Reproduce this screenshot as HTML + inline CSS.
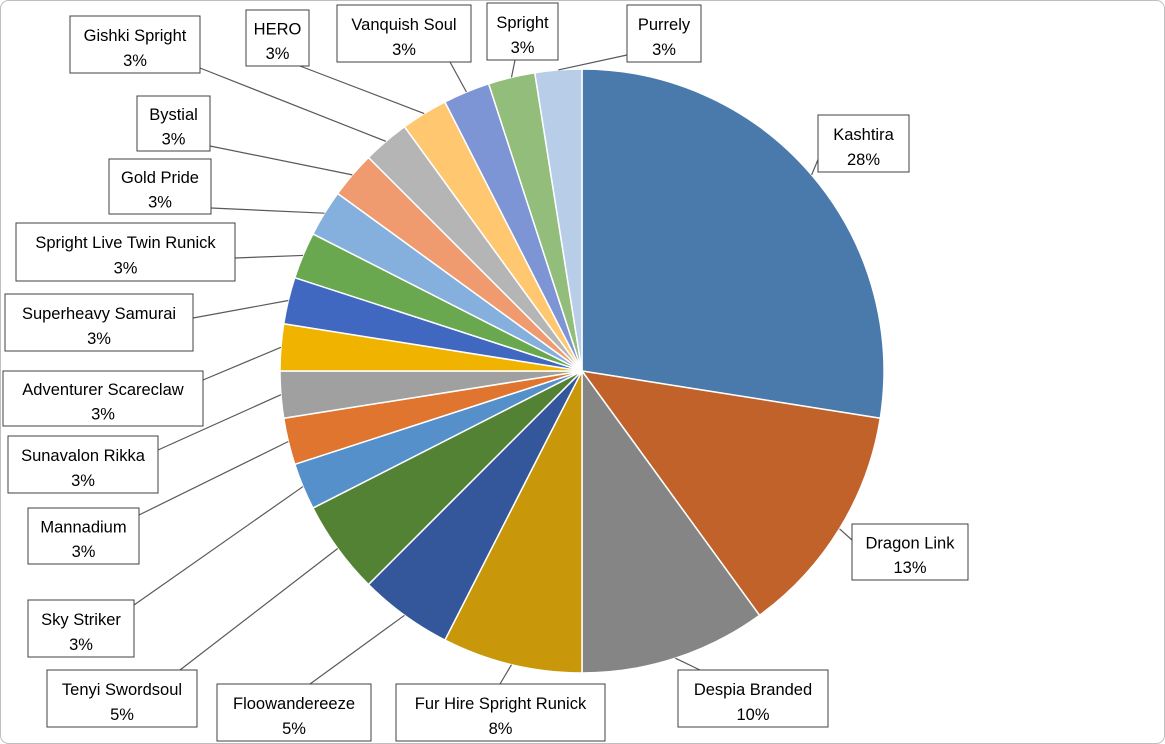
<!DOCTYPE html>
<html><head><meta charset="utf-8"><style>
html,body{margin:0;padding:0;background:#fff;}
svg{display:block;font-family:"Liberation Sans",sans-serif;}
</style></head><body>
<svg id="chart" width="1165" height="744" viewBox="0 0 1165 744">
<rect x="0.5" y="0.5" width="1164" height="743" rx="8" fill="#fff" stroke="#bfbfbf"/>
<g id="slices"></g><g id="leaders"></g><g id="labels"></g>
</svg>
<script>
const categories=["Kashtira","Dragon Link","Despia Branded","Fur Hire Spright Runick","Floowandereeze","Tenyi Swordsoul","Sky Striker","Mannadium","Sunavalon Rikka","Adventurer Scareclaw","Superheavy Samurai","Spright Live Twin Runick","Gold Pride","Bystial","Gishki Spright","HERO","Vanquish Soul","Spright","Purrely"];
const counts=[11,5,4,3,2,2,1,1,1,1,1,1,1,1,1,1,1,1,1];
const colors=["#4a7aab","#c0622a","#858585","#c8980a","#33579a","#548235","#5690cb","#e07530","#a0a0a0","#f0b400","#4068c0","#6aa84f","#85b0de","#f09a70","#b5b5b5","#ffc870","#7e95d5","#92bd7a","#b8cde8"];
// label box layout [x,y,w,h,anchorX,anchorY]
const boxes=[[818,115,91,57,822,150],[852,524,116,56,852,540],[678,670,150,57,700,670],[396,684,209,57,500,684],[217,684,154,57,310,684],[47,670,150,57,180,670],[28,600,106,57,134,605],[28,508,111,56,139,515],[8,436,150,57,158,450],[3,371,200,55,203,380],[5,294,188,57,193,318],[16,223,219,58,235,258],[109,159,102,55,211,208],[137,96,73,55,210,146],[70,16,130,57,200,68],[246,10,63,56,300,66],[337,5,134,57,450,62],[487,3,71,57,515,60],[627,5,74,57,627,55]];
const cx=582,cy=371,R=302;
const NS="http://www.w3.org/2000/svg";
const total=counts.reduce((a,b)=>a+b,0);
function pt(frac,r){const a=frac*2*Math.PI;return [cx+r*Math.sin(a),cy-r*Math.cos(a)];}
const gS=document.getElementById('slices'),gL=document.getElementById('leaders'),gT=document.getElementById('labels');
let acc=0;
counts.forEach((v,i)=>{
 const f0=acc/total,f1=(acc+v)/total;acc+=v;
 const p0=pt(f0,R),p1=pt(f1,R);const large=(f1-f0)>0.5?1:0;
 const p=document.createElementNS(NS,'path');
 p.setAttribute('d',`M${cx},${cy}L${p0[0]},${p0[1]}A${R},${R} 0 ${large} 1 ${p1[0]},${p1[1]}Z`);
 p.setAttribute('fill',colors[i]);p.setAttribute('stroke','#fff');p.setAttribute('stroke-width','1.5');
 
 
 gS.appendChild(p);
 const m=pt((f0+f1)/2,R);const b=boxes[i];
 const l=document.createElementNS(NS,'line');
 l.setAttribute('x1',b[4]);l.setAttribute('y1',b[5]);l.setAttribute('x2',m[0]);l.setAttribute('y2',m[1]);
 l.setAttribute('stroke','#595959');l.setAttribute('stroke-width','1.2');
 
 
 gL.appendChild(l);
 const g=document.createElementNS(NS,'g');
 
 
 const r=document.createElementNS(NS,'rect');
 r.setAttribute('x',b[0]);r.setAttribute('y',b[1]);r.setAttribute('width',b[2]);r.setAttribute('height',b[3]);
 r.setAttribute('fill','#fff');r.setAttribute('stroke','#404040');r.setAttribute('stroke-width','1');
 g.appendChild(r);
 const pct=Math.round(v/total*100)+'%';
 [[categories[i],b[1]+b[3]*0.33],[pct,b[1]+b[3]*0.77]].forEach(([s,y])=>{
  const t=document.createElementNS(NS,'text');
  t.setAttribute('x',b[0]+b[2]/2);t.setAttribute('y',y+6);t.setAttribute('text-anchor','middle');
  t.setAttribute('font-size','16.5');t.setAttribute('fill','#000');t.textContent=s;g.appendChild(t);
 });
 gT.appendChild(g);
});
</script>
</body></html>
